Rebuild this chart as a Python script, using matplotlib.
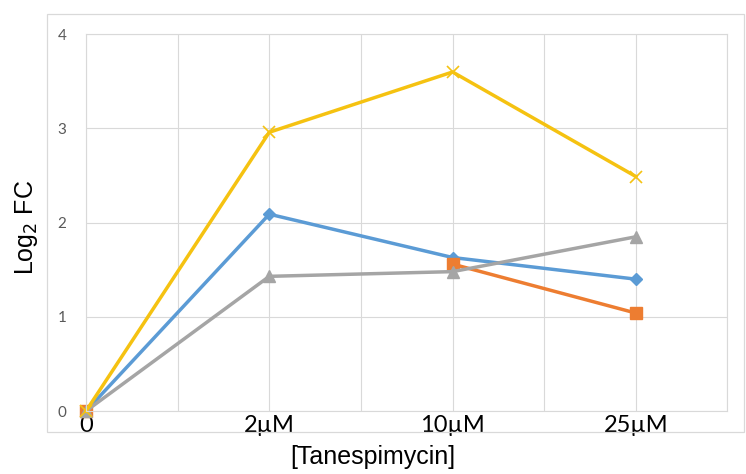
import numpy as np
import matplotlib
matplotlib.use('Agg')
from matplotlib import pyplot as plt
from matplotlib.patches import Rectangle

categories = ['0', '2\u00b5M', '10\u00b5M', '25\u00b5M']
blue_vals = [0, 2.09, 1.63, 1.40]
orange_vals = [0, np.nan, 1.56, 1.04]
gray_vals = [0, 1.43, 1.48, 1.85]
yellow_vals = [0, 2.96, 3.60, 2.49]

fig = plt.figure(figsize=(7.46, 4.74), dpi=100)
ax = fig.add_axes([0.1153, 0.1329, 0.9752 - 0.1153, 0.9276 - 0.1329])

# outer chart border
fig.patches.append(Rectangle((47 / 746, (474 - 432) / 474), (744 - 47) / 746, (432 - 14) / 474,
                             transform=fig.transFigure, fill=False, edgecolor='#d9d9d9', linewidth=0.9))

x = np.arange(len(categories))
style = dict(linewidth=2.5, clip_on=False)
ax.plot(x, blue_vals, color='#5b9bd5', marker='D', markersize=6, **style)
ax.plot(x, orange_vals, color='#ed7d31', marker='s', markersize=8, **style)
ax.plot(x, gray_vals, color='#a5a5a5', marker='^', markersize=9, **style)
ax.plot(x, yellow_vals, color='#f5c211', marker='x', markersize=8, markeredgewidth=1.2, **style)

ax.set_xlim(0, 3.5)
ax.set_ylim(0, 4)
grid_x = np.arange(0, 3.51, 0.5)
ax.set_xticks(grid_x)
ax.set_xticklabels([categories[int(v)] if v == int(v) and v < 3.5 else '' for v in grid_x],
                   fontsize=17, family='Lato', color='black')
ax.set_yticks([0, 1, 2, 3, 4])
ax.set_yticklabels(['0', '1', '2', '3', '4'], fontsize=11, family='Lato', color='#595959')
ax.tick_params(axis='x', length=0, pad=3)
ax.tick_params(axis='y', length=0, pad=14)
ax.grid(True, color='#d9d9d9', linewidth=0.8)
ax.set_axisbelow(True)
for s in ax.spines.values():
    s.set_color('#d9d9d9')
    s.set_linewidth(0.8)

fig.text(0.035, (474 - 227) / 474, 'Log$_2$ FC', rotation=90, ha='center', va='center',
         fontsize=18, family='Liberation Sans')
fig.text(373 / 746, (474 - 457) / 474, '[Tanespimycin]', ha='center', va='center',
         fontsize=18, family='Liberation Sans')

plt.savefig('out.png', dpi=100)
